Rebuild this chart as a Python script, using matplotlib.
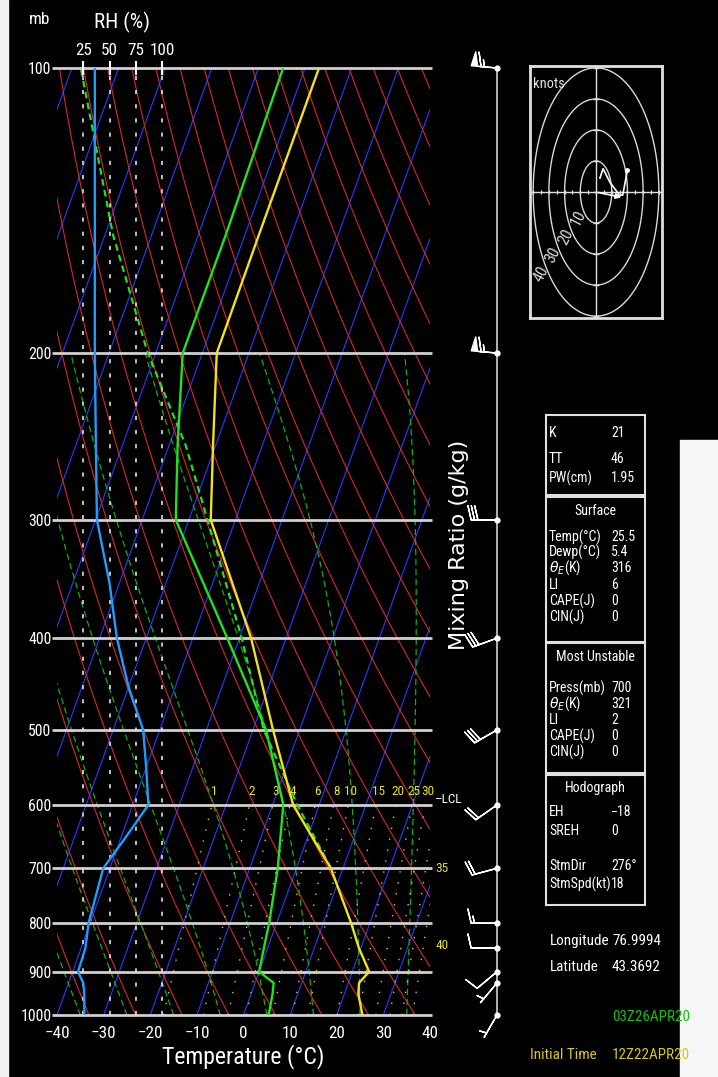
import numpy as np
import matplotlib
matplotlib.use("Agg")
import matplotlib.pyplot as plt
from matplotlib import font_manager
from matplotlib.transforms import Affine2D
from matplotlib.patches import Rectangle
from matplotlib.ticker import NullLocator

# ---- sounding data ----
temp_p = [1000, 950, 925, 900, 850, 800, 700, 600, 500, 400, 300, 250, 200, 150, 100]
temp_c = [25.5, 23.0, 22.3, 23.6, 19.6, 16.0, 7.4, -5.6, -15.7, -27.5, -45.3, -50.6, -56.9, -57.0, -57.0]

dewp_p = [1000, 950, 925, 900, 850, 800, 700, 600, 500, 400, 300, 250, 200, 150, 100]
dewp_c = [5.4, 4.6, 4.0, 0.0, -0.8, -1.6, -4.0, -7.7, -17.2, -32.6, -52.8, -58.2, -64.2, -64.1, -64.7]

parcel_p = [700, 600, 500, 400, 300, 250, 200, 150, 100]
parcel_c = [7.4, -4.7, -17.7, -29.5, -46.0, -56.5, -71.7, -88.3, -108.1]

rh_p = [100, 200, 250, 300, 350, 400, 450, 500, 550, 600, 650, 700, 800, 850, 900, 925, 950, 1000]
rh_val = [36, 36, 37, 38, 50, 57, 68, 82, 85, 87, 65, 44, 30, 27, 20, 25, 26, 26]

wind_p = [100, 200, 300, 400, 500, 600, 700, 800, 850, 900, 925, 1000]
wind_dir = [275, 275, 270, 250, 240, 235, 255, 270, 270, 230, 220, 210]
wind_spd = [65, 65, 30, 30, 30, 20, 20, 15, 10, 10, 5, 3]

hodo_u = [2.5, 4.5, 9, 15, 17, 20]
hodo_v = [4.5, 7.5, 3, -1, -1, 7]

mix_ratios = [1, 2, 3, 4, 6, 8, 10, 15, 20, 25, 30, 35, 40]
press_levels = [100, 200, 300, 400, 500, 600, 700, 800, 900, 1000]

index_rows = [("K", "21"), ("TT", "46"), ("PW(cm)", "1.95")]
surface_rows = [("Temp(°C)", "25.5"), ("Dewp(°C)", "5.4"), (r"$\theta_E$(K)", "316"),
                ("LI", "6"), ("CAPE(J)", "0"), ("CIN(J)", "0")]
unstable_rows = [("Press(mb)", "700"), (r"$\theta_E$(K)", "321"), ("LI", "2"),
                 ("CAPE(J)", "0"), ("CIN(J)", "0")]
hodo_rows = [("EH", "\u221218"), ("SREH", "0"), ("", ""), ("StmDir", "276°"), ("StmSpd(kt)", "18")]
stm_dir, stm_spd = 276, 18


# ---- thermodynamics for the background lines ----
def sat_vp(t):
    return 6.112 * np.exp(17.67 * t / (t + 243.5))


def dew_from_vp(e):
    a = np.log(e / 6.112)
    return 243.5 * a / (17.67 - a)


def moist_line(t0, p):
    Rd, cp, Lv, eps = 287.04, 1005.7, 2.501e6, 0.622

    def dtdp(T, pp):
        es = sat_vp(T - 273.15)
        rs = eps * es / (pp - es)
        return (Rd * T + Lv * rs) / (pp * (cp + Lv * Lv * rs * eps / (Rd * T * T)))

    out = [t0 + 273.15]
    for i in range(1, len(p)):
        dp = p[i] - p[i - 1]
        T = out[-1]
        k1 = dtdp(T, p[i - 1])
        k2 = dtdp(T + k1 * dp, p[i])
        out.append(T + 0.5 * (k1 + k2) * dp)
    return np.array(out) - 273.15


# the original uses a thin condensed stroke font; take a narrow face if one is installed
fonts = font_manager.fontManager.ttflist
names = {f.name for f in fonts}
stretch = "normal"
if "Liberation Sans Narrow" in names:
    FONT, fs = "Liberation Sans Narrow", 1.0
elif "Roboto Condensed" in names:
    FONT, fs = "Roboto Condensed", 0.95
elif any(f.name == "DejaVu Sans" and f.stretch == "condensed" for f in fonts):
    FONT, fs, stretch = "DejaVu Sans", 0.9, "condensed"
else:
    FONT, fs = "DejaVu Sans", 0.8
plt.rcParams["font.family"] = [FONT, "DejaVu Sans"]
plt.rcParams["font.stretch"] = stretch
plt.rcParams["mathtext.fontset"] = "dejavusans"

W, H = 718, 1077
fig = plt.figure(figsize=(W / 100, H / 100), dpi=100, facecolor="black")

# light page edges visible in the screenshot
fig.patches.append(Rectangle((0, 0), 8 / W, 1, transform=fig.transFigure, color="#f0f0f0", zorder=-5))
fig.patches.append(Rectangle((680 / W, 0), 38 / W, 1 - 440 / H, transform=fig.transFigure,
                             color="#f6f6f6", zorder=-5))

ax = fig.add_axes([57 / W, 1 - 1015 / H, 373 / W, 947 / H])
ax.set_facecolor("black")
ax.set_yscale("log")
ax.set_ylim(1000, 100)
ax.set_xlim(-40, 40)
ax.autoscale(False)
for s in ax.spines.values():
    s.set_visible(False)

skew = ax.transData + ax.transAxes.inverted() + Affine2D().skew(np.arctan(0.915), 0) + ax.transAxes

p_full = np.geomspace(1000, 100, 200)
# isotherms
for t in range(-120, 50, 10):
    ax.plot(np.full_like(p_full, t), p_full, color="#2a3cff", lw=0.8, transform=skew)
# dry adiabats
for th in range(240, 520, 10):
    ax.plot(th * (p_full / 1000) ** 0.286 - 273.15, p_full, color="#d42a2a", lw=0.8, transform=skew)
# moist adiabats
p_moist = np.geomspace(1000, 200, 300)
for t0 in range(-35, 40, 10):
    ax.plot(moist_line(t0, p_moist), p_moist, color="#10b010", lw=0.9, ls=(0, (5, 3)), transform=skew)
# mixing ratio lines
p_mix = np.linspace(1000, 600, 60)
for w in mix_ratios:
    ax.plot(dew_from_vp(w * p_mix / (622 + w)), p_mix, color="#d8d020", lw=1.0,
            ls=(0, (1, 7)), transform=skew)
    if w <= 30:
        ax.text(dew_from_vp(w * 600 / (622 + w)), 590, str(w), color="#e8e020", fontsize=10 * fs,
                ha="center", va="bottom", transform=skew)
ax.text(1.015, 700, "35", color="#e8e020", fontsize=10 * fs, va="center",
        transform=ax.get_yaxis_transform())
ax.text(1.015, 845, "40", color="#e8e020", fontsize=10 * fs, va="center",
        transform=ax.get_yaxis_transform())
ax.text(1.012, 592, "\u2013LCL", color="white", fontsize=10 * fs, va="center",
        transform=ax.get_yaxis_transform(), clip_on=False)

# pressure lines
ax.hlines(press_levels, -0.013, 1.005, colors="#d0d0d0", lw=2, transform=ax.get_yaxis_transform(),
          clip_on=False, zorder=3)

# profiles
ax.plot(parcel_c, parcel_p, color="#22e022", lw=1.6, ls=(0, (3, 2)), transform=skew, zorder=4)
ax.plot(temp_c, temp_p, color="#f0e020", lw=1.7, transform=skew, zorder=5)
ax.plot(dewp_c, dewp_p, color="#22e022", lw=1.7, transform=skew, zorder=5)

ax.set_yticks(press_levels)
ax.set_yticklabels([str(p) for p in press_levels])
ax.yaxis.set_minor_locator(NullLocator())
ax.set_xticks(range(-40, 41, 10))
ax.set_xticklabels([str(t).replace("-", "\u2212") for t in range(-40, 41, 10)])
ax.tick_params(axis="both", colors="white", labelsize=13 * fs, length=0, pad=8)
ax.tick_params(axis="y", pad=4, labelsize=12 * fs)
ax.set_xlabel("Temperature (°C)", color="white", fontsize=18 * fs, labelpad=2)

# relative humidity axis on top
rh = ax.twiny()
rh.set_xlim(0, 355)
rh.set_xticks([25, 50, 75, 100])
rh.tick_params(axis="x", colors="white", labelsize=13 * fs, direction="inout", length=10, width=1.5, pad=2)
rh.yaxis.set_minor_locator(NullLocator())
for s in rh.spines.values():
    s.set_visible(False)
for r in [25, 50, 75, 100]:
    rh.axvline(r, color="#e0e0e0", lw=1.2, ls=(0, (2.5, 6)), zorder=2)
rh.plot(rh_val, rh_p, color="#1e9cff", lw=1.7, zorder=5)
fig.text(40 / W, 1 - 20 / H, "mb", color="white", fontsize=13 * fs, ha="center", va="center")
fig.text(122 / W, 1 - 22 / H, "RH (%)", color="white", fontsize=16 * fs, ha="center", va="center")

fig.text(459 / W, 1 - 545 / H, "Mixing Ratio (g/kg)", color="white", fontsize=16, rotation=90,
         ha="center", va="center", family="DejaVu Sans", stretch="normal")

# wind barbs
wax = fig.add_axes([440 / W, 1 - 1015 / H, 80 / W, 947 / H])
wax.set_facecolor("none")
wax.set_yscale("log")
wax.set_ylim(1000, 100)
wax.set_xlim(0, 80)
wax.axis("off")
wd = np.radians(wind_dir)
ws = np.array(wind_spd)
wax.plot([57, 57], [1000, 100], color="#d0d0d0", lw=1.2)
wax.plot(np.full(len(wind_p), 57), wind_p, "o", color="white", ms=3.5, clip_on=False)
wax.barbs(np.full(len(wind_p), 57), wind_p, -ws * np.sin(wd), -ws * np.cos(wd),
          color="white", length=6.1, linewidth=1.0,
          sizes=dict(emptybarb=0, height=0.55, spacing=0.13, width=0.25), clip_on=False)

# hodograph
hax = fig.add_axes([530 / W, 1 - 318 / H, 132 / W, 252 / H])
hax.set_facecolor("black")
hax.set_xlim(-42, 42)
hax.set_ylim(-40.6, 40.6)
hax.set_xticks([])
hax.set_yticks([])
for s in hax.spines.values():
    s.set_color("#e0e0e0")
    s.set_linewidth(2)
ang = np.linspace(0, 2 * np.pi, 200)
for r in [10, 20, 30, 40]:
    hax.plot(r * np.cos(ang), r * np.sin(ang), color="#d8d8d8", lw=1)
    a = np.radians(217)
    hax.text((r + 4) * np.cos(a), (r + 4) * np.sin(a), str(r), color="#d8d8d8", fontsize=12 * fs,
             rotation=62, ha="center", va="center")
hax.axhline(0, color="#e0e0e0", lw=1)
hax.axvline(0, color="#e0e0e0", lw=1)
tk = np.arange(-40, 41, 10)
hax.plot(np.zeros_like(tk), tk, "_", color="#e0e0e0", ms=4)
hax.plot(np.arange(-40, 41, 5), np.zeros(17), "|", color="#e0e0e0", ms=3)
hax.plot(hodo_u, hodo_v, color="white", lw=1.2)
hax.plot(hodo_u[-1], hodo_v[-1], "o", color="white", ms=2.5)
su = -stm_spd * np.sin(np.radians(stm_dir))
sv = -stm_spd * np.cos(np.radians(stm_dir))
hax.annotate("", xy=(su, sv), xytext=(0, 0),
             arrowprops=dict(arrowstyle="-|>", color="white", lw=1.2, mutation_scale=8))
hax.text(-40, 37, "knots", color="#e0e0e0", fontsize=11 * fs, va="top")


# information boxes
def box(y0, y1):
    fig.patches.append(Rectangle((546 / W, 1 - y1 / H), 99 / W, (y1 - y0) / H, transform=fig.transFigure,
                                 fill=False, edgecolor="#e0e0e0", lw=1.5))


small = 10.5 * fs


def rows(items, ys):
    for (a, b), y in zip(items, ys):
        fig.text(549 / W, 1 - y / H, a, color="white", fontsize=small, va="center")
        fig.text(611 / W, 1 - y / H, b, color="white", fontsize=small, va="center")


box(415, 495)
rows(index_rows, [433, 459, 478])
box(497, 642)
fig.text(595 / W, 1 - 511 / H, "Surface", color="white", fontsize=small, ha="center", va="center")
rows(surface_rows, [537, 552, 568, 585, 601, 617])
box(643, 773)
fig.text(595 / W, 1 - 657 / H, "Most Unstable", color="white", fontsize=small, ha="center", va="center")
rows(unstable_rows, [688, 704, 720, 736, 752])
box(775, 905)
fig.text(595 / W, 1 - 788 / H, "Hodograph", color="white", fontsize=small, ha="center", va="center")
rows(hodo_rows, [812, 831, 848, 866, 884])

big = 11.5 * fs
fig.text(550 / W, 1 - 941 / H, "Longitude", color="white", fontsize=big, va="center")
fig.text(612 / W, 1 - 941 / H, "76.9994", color="white", fontsize=big, va="center")
fig.text(550 / W, 1 - 967 / H, "Latitude", color="white", fontsize=big, va="center")
fig.text(612 / W, 1 - 967 / H, "43.3692", color="white", fontsize=big, va="center")
fig.text(612 / W, 1 - 1017 / H, "03Z26APR20", color="#10c010", fontsize=big, va="center")
fig.text(530 / W, 1 - 1055 / H, "Initial Time", color="#d8c818", fontsize=big, va="center")
fig.text(612 / W, 1 - 1055 / H, "12Z22APR20", color="#d8c818", fontsize=big, va="center")

fig.savefig("out.png", dpi=100, facecolor=fig.get_facecolor())
